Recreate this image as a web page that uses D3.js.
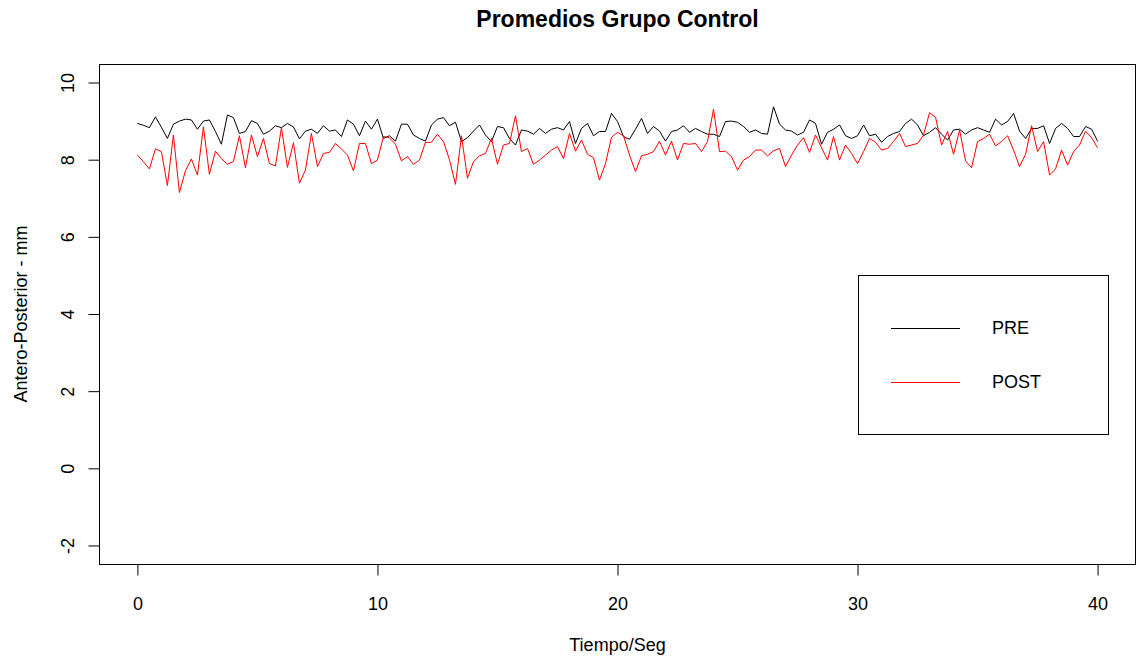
<!DOCTYPE html>
<html>
<head>
<meta charset="utf-8">
<script src="https://cdn.jsdelivr.net/npm/d3@7"></script>
<style>
  html, body { margin: 0; padding: 0; background: #fff; }
  svg { display: block; font-family: "Liberation Sans", Arial, sans-serif; }
</style>
</head>
<body>
<svg id="chart" width="1137" height="658"></svg>
<script>
// ---- data ----
const timeStep = 0.25;           // seconds between samples
const xTicks = [0, 10, 20, 30, 40];
const yTicks = [-2, 0, 2, 4, 6, 8, 10];
const seriesNames = ["PRE", "POST"];
const seriesColors = ["#000000", "#ff0000"];

const pre = [
  8.94, 8.89, 8.83, 9.11, 8.84, 8.55, 8.92, 9.00, 9.05, 9.03, 8.79, 9.00, 9.03, 8.73, 8.40, 9.16, 9.09, 8.68, 8.73, 9.01,
  8.94, 8.66, 8.74, 8.88, 8.83, 8.94, 8.85, 8.54, 8.74, 8.79, 8.68, 8.88, 8.74, 8.77, 8.60, 9.03, 8.92, 8.62, 9.00, 8.79,
  9.05, 8.55, 8.62, 8.48, 8.92, 8.92, 8.64, 8.55, 8.48, 8.90, 9.05, 9.09, 8.88, 8.97, 8.47, 8.57, 8.74, 8.90, 8.64, 8.47,
  8.86, 8.83, 8.55, 8.38, 8.77, 8.74, 8.66, 8.81, 8.68, 8.79, 8.83, 8.77, 8.99, 8.42, 8.81, 8.94, 8.62, 8.73, 8.73, 9.20,
  8.99, 8.60, 8.53, 8.79, 9.07, 8.68, 8.86, 8.74, 8.48, 8.73, 8.77, 8.88, 8.71, 8.81, 8.73, 8.66, 8.66, 8.60, 8.99, 9.00,
  8.97, 8.86, 8.71, 8.77, 8.68, 8.66, 9.37, 8.92, 8.77, 8.74, 8.64, 8.71, 9.03, 8.94, 8.40, 8.71, 8.79, 8.90, 8.62, 8.55,
  8.62, 8.90, 8.62, 8.66, 8.45, 8.60, 8.68, 8.73, 8.94, 9.05, 8.90, 8.62, 8.71, 8.83, 8.66, 8.51, 8.77, 8.79, 8.66, 8.77,
  8.83, 8.77, 8.71, 9.05, 8.90, 8.99, 9.20, 8.74, 8.55, 8.81, 8.81, 8.88, 8.42, 8.81, 8.94, 8.81, 8.60, 8.60, 8.86, 8.79,
  8.48
];

const post = [
  8.12, 7.95, 7.76, 8.28, 8.21, 7.33, 8.64, 7.15, 7.71, 8.02, 7.60, 8.85, 7.62, 8.22, 8.03, 7.88, 7.95, 8.62, 7.79, 8.64,
  8.08, 8.55, 7.90, 7.84, 8.83, 7.80, 8.44, 7.39, 7.73, 8.68, 7.82, 8.16, 8.19, 8.42, 8.28, 8.12, 7.71, 8.42, 8.42, 7.90,
  7.99, 8.60, 8.57, 8.40, 7.97, 8.08, 7.88, 7.99, 8.45, 8.45, 8.66, 8.47, 8.00, 7.36, 8.62, 7.52, 7.95, 8.10, 8.16, 8.55,
  7.88, 8.38, 8.42, 9.14, 8.21, 8.29, 7.88, 7.99, 8.12, 8.25, 8.34, 8.03, 8.68, 8.22, 8.51, 8.14, 8.05, 7.47, 7.90, 8.58,
  8.71, 8.62, 8.12, 7.69, 8.10, 8.14, 8.21, 8.48, 8.12, 8.48, 7.99, 8.42, 8.40, 8.42, 8.21, 8.47, 9.31, 8.21, 8.22, 8.08,
  7.73, 7.99, 8.08, 8.25, 8.25, 8.10, 8.23, 8.29, 7.82, 8.12, 8.38, 8.57, 8.19, 8.64, 8.31, 7.99, 8.60, 7.99, 8.38, 8.16,
  7.90, 8.21, 8.55, 8.45, 8.25, 8.29, 8.47, 8.68, 8.34, 8.38, 8.42, 8.64, 9.22, 9.10, 8.38, 8.73, 8.14, 8.77, 7.97, 7.79,
  8.47, 8.55, 8.66, 8.36, 8.47, 8.62, 8.25, 7.82, 8.14, 8.88, 8.21, 8.47, 7.60, 7.76, 8.25, 7.86, 8.21, 8.38, 8.74, 8.57,
  8.31
];

// ---- layout ----
const svg = d3.select("#chart");
const box = { left: 99, right: 1136, top: 64, bottom: 564 };
const fontSize = 18;
const fmt = d => String(d);   // plain hyphen-minus, as in the original

const x = d3.scaleLinear().domain([-1.6, 41.6]).range([box.left, box.right]);
const y = d3.scaleLinear().domain([-2.48, 10.48]).range([box.bottom, box.top]);

// lines
const line = d3.line()
  .x((d, i) => x(i * timeStep))
  .y(d => y(d));

[pre, post].forEach((s, k) => {
  svg.append("path")
    .datum(s)
    .attr("fill", "none")
    .attr("stroke", seriesColors[k])
    .attr("stroke-width", 1)
    .attr("d", line);
});

// plot box
svg.append("rect")
  .attr("x", box.left + 0.5).attr("y", box.top + 0.5)
  .attr("width", box.right - box.left - 1).attr("height", box.bottom - box.top)
  .attr("fill", "none").attr("stroke", "#000").attr("stroke-width", 1);

// x axis
const xAxis = svg.append("g")
  .attr("transform", `translate(0,${box.bottom + 0.5})`)
  .call(d3.axisBottom(x).tickValues(xTicks).tickSize(11).tickPadding(22).tickFormat(fmt));
xAxis.select(".domain").remove();
xAxis.selectAll("text").attr("font-size", fontSize).attr("font-family", "Liberation Sans, Arial, sans-serif").attr("fill", "#000");
xAxis.selectAll("line").attr("stroke", "#000");

// y axis
const yAxis = svg.append("g")
  .attr("transform", `translate(${box.left + 0.5},0)`)
  .call(d3.axisLeft(y).tickValues(yTicks).tickSize(11).tickFormat(fmt));
yAxis.select(".domain").remove();
yAxis.selectAll("line").attr("stroke", "#000");
yAxis.selectAll("text")
  .attr("font-size", fontSize)
  .attr("font-family", "Liberation Sans, Arial, sans-serif")
  .attr("fill", "#000")
  .attr("x", null).attr("dy", null)
  .attr("text-anchor", "middle")
  .attr("transform", "translate(-26,0) rotate(-90)")
  .attr("dominant-baseline", "auto")
  .attr("y", 0);

// titles
svg.append("text")
  .attr("x", (box.left + box.right) / 2).attr("y", 27)
  .attr("text-anchor", "middle")
  .attr("font-size", 23).attr("font-weight", "bold")
  .text("Promedios Grupo Control");

svg.append("text")
  .attr("x", (box.left + box.right) / 2).attr("y", 651)
  .attr("text-anchor", "middle")
  .attr("font-size", fontSize)
  .text("Tiempo/Seg");

svg.append("text")
  .attr("transform", `translate(27,${(box.top + box.bottom) / 2}) rotate(-90)`)
  .attr("text-anchor", "middle")
  .attr("font-size", fontSize)
  .text("Antero-Posterior - mm");

// legend
const leg = svg.append("g");
leg.append("rect")
  .attr("x", 858.5).attr("y", 275.5).attr("width", 250).attr("height", 159)
  .attr("fill", "#fff").attr("stroke", "#000").attr("stroke-width", 1);
seriesNames.forEach((name, k) => {
  const ly = 328 + k * 54;
  leg.append("line")
    .attr("x1", 891).attr("x2", 960).attr("y1", ly + 0.5).attr("y2", ly + 0.5)
    .attr("stroke", seriesColors[k]).attr("stroke-width", 1);
  leg.append("text")
    .attr("x", 992).attr("y", ly)
    .attr("dominant-baseline", "central")
    .attr("font-size", fontSize)
    .text(name);
});
</script>
</body>
</html>
